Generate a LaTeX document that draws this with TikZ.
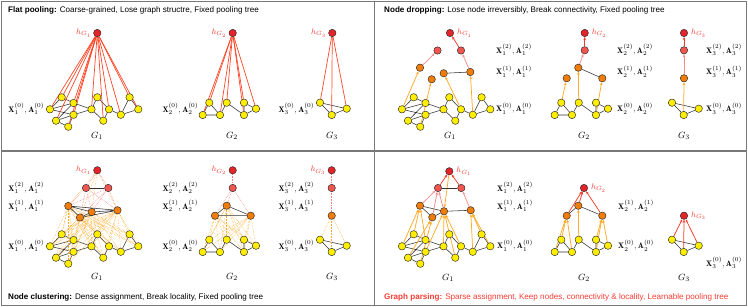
\documentclass[tikz,border=0pt]{standalone}
\usepackage{fontspec}
\setsansfont{Liberation Sans}
\usetikzlibrary{arrows.meta}
\pgfdeclarelayer{bg}
\pgfsetlayers{bg,main}
\definecolor{ynode}{RGB}{255,238,0}
\definecolor{onode}{RGB}{240,125,10}
\definecolor{rnode}{RGB}{240,85,80}
\definecolor{hnode}{RGB}{230,35,40}
\definecolor{redline}{RGB}{255,70,40}
\definecolor{oarrow}{RGB}{255,170,40}
\definecolor{parrow}{RGB}{245,140,140}
\definecolor{rarrow}{RGB}{240,60,45}
\definecolor{htext}{RGB}{245,60,50}
\definecolor{framec}{RGB}{120,120,120}
\tikzset{
 nd/.style={circle, draw=black!85, line width=0.45pt, minimum size=7.4pt, inner sep=0pt},
 yn/.style={nd, fill=ynode},
 onn/.style={nd, fill=onode},
 rn/.style={nd, fill=rnode},
 hn/.style={nd, fill=hnode},
 gedge/.style={draw=black!80, line width=0.55pt},
 flat/.style={draw=redline, line width=0.7pt},
 oarr/.style={draw=oarrow, line width=0.75pt, -{Stealth[length=3.2pt,width=2.6pt]}},
 parr/.style={draw=parrow, line width=0.75pt, -{Stealth[length=3.2pt,width=2.6pt]}},
 rarr/.style={draw=rarrow, line width=0.75pt, -{Stealth[length=3.2pt,width=2.6pt]}},
 odot/.style={draw=oarrow, line width=0.5pt, densely dotted},
 pdot/.style={draw=parrow!90!red, line width=0.55pt, densely dotted},
 xlab/.style={anchor=west, inner sep=0pt, font=\fontsize{8}{9}\selectfont},
 glab/.style={inner sep=0pt, font=\fontsize{9.5}{10}\selectfont},
 hlab/.style={inner sep=0pt, text=htext, font=\fontsize{8.5}{9}\selectfont},
 ttl/.style={anchor=west, inner sep=0pt, font=\sffamily\fontsize{8.1}{9}\selectfont},
 frm/.style={draw=framec, line width=1.2pt}
}
\newcommand{\GOne}[1]{%
 \node[yn] (#1a) at (50,109.3) {};
 \node[yn] (#1b) at (61.7,97.3) {};
 \node[yn] (#1c) at (73.5,103) {};
 \node[yn] (#1d) at (73.5,114.8) {};
 \node[yn] (#1e) at (56,120.7) {};
 \node[yn] (#1f) at (68.3,126.7) {};
 \node[yn] (#1g) at (91.5,109.3) {};
 \node[yn] (#1h) at (97.3,97.3) {};
 \node[yn] (#1i) at (109,109.3) {};
 \node[yn] (#1j) at (103.3,120.7) {};
 \node[yn] (#1k) at (120.8,114.8) {};
 \node[yn] (#1l) at (129.6,97.3) {};
 \node[yn] (#1m) at (138.3,109.3) {};
 \begin{pgfonlayer}{bg}
 \draw[gedge] (#1a)--(#1b) (#1a)--(#1c) (#1a)--(#1d) (#1b)--(#1c) (#1c)--(#1g)
   (#1d)--(#1g) (#1e)--(#1c) (#1e)--(#1d) (#1e)--(#1f) (#1f)--(#1d)
   (#1g)--(#1h) (#1g)--(#1j) (#1h)--(#1i) (#1i)--(#1j) (#1i)--(#1k)
   (#1k)--(#1l) (#1k)--(#1m) (#1l)--(#1m);
 \end{pgfonlayer}}
\newcommand{\GTwo}[1]{%
 \node[yn] (#1a) at (209.3,102.7) {};
 \node[yn] (#1b) at (202.7,115) {};
 \node[yn] (#1c) at (220,115) {};
 \node[yn] (#1d) at (226.7,102.7) {};
 \node[yn] (#1e) at (244,102.7) {};
 \node[yn] (#1f) at (244,115) {};
 \node[yn] (#1g) at (256,108.7) {};
 \begin{pgfonlayer}{bg}
 \draw[gedge] (#1a)--(#1b) (#1a)--(#1c) (#1b)--(#1c) (#1c)--(#1d) (#1d)--(#1f)
   (#1e)--(#1f) (#1e)--(#1g) (#1f)--(#1g);
 \end{pgfonlayer}}
\newcommand{\GThree}[1]{%
 \node[yn] (#1a) at (320,102.7) {};
 \node[yn] (#1b) at (331.7,115) {};
 \node[yn] (#1c) at (346.7,108.7) {};
 \begin{pgfonlayer}{bg}
 \draw[gedge] (#1a)--(#1b) (#1b)--(#1c) (#1a)--(#1c);
 \end{pgfonlayer}}
\newcommand{\XA}[2]{$\mathbf{X}_{#1}^{(#2)}, \mathbf{A}_{#1}^{(#2)}$}
\begin{document}
\begin{tikzpicture}[x=1pt,y=-1pt]
\useasboundingbox (0,0) rectangle (748,307);
% frame
\draw[frm] (1.2,1.2) rectangle (746.3,305.6);
\draw[frm] (374.5,1.2) -- (374.5,305.6);
\draw[frm] (1.2,151) -- (746.3,151);

% ================= Panel 1: flat pooling
\node[ttl] (t1) at (8,10) {\textbf{Flat pooling:} Coarse-grained, Lose graph structre, Fixed pooling tree};
\GOne{P1} \GTwo{P2} \GThree{P3}
\node[hn] (P1h) at (97.3,33) {};
\node[hn] (P2h) at (232.7,33) {};
\node[hn] (P3h) at (332.3,33) {};
\node[hlab, anchor=east] (P1hl) at ([xshift=-2pt]P1h.west) {$h_{G_1}$};
\node[hlab, anchor=east] (P2hl) at ([xshift=-2pt]P2h.west) {$h_{G_2}$};
\node[hlab, anchor=east] (P3hl) at ([xshift=-2pt]P3h.west) {$h_{G_3}$};
\begin{pgfonlayer}{bg}
\foreach \n in {a,...,m} \draw[flat] (P1h) -- (P1\n);
\foreach \n in {a,...,g} \draw[flat] (P2h) -- (P2\n);
\foreach \n in {a,...,c} \draw[flat] (P3h) -- (P3\n);
\end{pgfonlayer}
\node[xlab] (P1x0) at (8.3,109) {\XA{1}{0}};
\node[xlab] (P2x0) at (162.3,109) {\XA{2}{0}};
\node[xlab] (P3x0) at (278.3,109) {\XA{3}{0}};
\node[glab] (P1g) at (97,136) {$G_1$};
\node[glab] (P2g) at (232,136) {$G_2$};
\node[glab] (P3g) at (332,136) {$G_3$};

% ================= Panel 2: node dropping
\node[ttl] (t2) at (384,10) {\textbf{Node dropping:} Lose node irreversibly, Break connectivity, Fixed pooling tree};
\begin{scope}[shift={(352,0)}]
\GOne{Q1} \GTwo{Q2} \GThree{Q3}
\end{scope}
\node[hn] (Q1h) at (450,33) {};
\node[rn] (Q1r1) at (437.5,50.5) {};
\node[rn] (Q1r2) at (461,50.5) {};
\node[onn] (Q1o1) at (420,67.7) {};
\node[onn] (Q1o2) at (431.7,79.3) {};
\node[onn] (Q1o3) at (443.7,73.3) {};
\node[onn] (Q1o4) at (470.3,72) {};
\node[hn] (Q2h) at (584.7,33) {};
\node[rn] (Q2r) at (584.7,50.3) {};
\node[onn] (Q2o1) at (566.7,78.3) {};
\node[onn] (Q2o2) at (578.3,67.7) {};
\node[onn] (Q2o3) at (602.3,78.3) {};
\node[hn] (Q3h) at (684,33) {};
\node[rn] (Q3r) at (684,50.3) {};
\node[onn] (Q3o) at (684,78.3) {};
\begin{pgfonlayer}{bg}
\draw[oarr] (Q1a) -- (Q1o1);
\draw[oarr] (Q1f) -- (Q1o2);
\draw[oarr] (Q1i) -- (Q1o3);
\draw[oarr] (Q1k) -- (Q1o4);
\draw[parr] (Q1o1) -- (Q1r1);
\draw[parr] (Q1o4) -- (Q1r2);
\draw[rarr] (Q1r2) -- (Q1h);
\draw[gedge] (Q1o3) -- (Q1o4);
\draw[oarr] (Q2a) -- (Q2o1);
\draw[oarr] (Q2d) -- (Q2o2);
\draw[oarr] (Q2f) -- (Q2o3);
\draw[parr] (Q2o2) -- (Q2r);
\draw[rarr] (Q2r) -- (Q2h);
\draw[gedge] (Q2o2) -- (Q2o3);
\draw[oarr] (Q3b) -- (Q3o);
\draw[parr] (Q3o) -- (Q3r);
\draw[rarr] (Q3r) -- (Q3h);
\end{pgfonlayer}
\node[hlab, anchor=west] (Q1hl) at ([xshift=3pt]Q1h.east) {$h_{G_1}$};
\node[hlab, anchor=west] (Q2hl) at ([xshift=3pt]Q2h.east) {$h_{G_2}$};
\node[hlab, anchor=west] (Q3hl) at ([xshift=3pt]Q3h.east) {$h_{G_3}$};
\node[xlab] (Q1x2) at (496,50) {\XA{1}{2}};
\node[xlab] (Q1x1) at (496,71.5) {\XA{1}{1}};
\node[xlab] (Q1x0) at (496,108.5) {\XA{1}{0}};
\node[xlab] (Q2x2) at (617,50) {\XA{2}{2}};
\node[xlab] (Q2x1) at (617,71.5) {\XA{2}{1}};
\node[xlab] (Q2x0) at (617,108.5) {\XA{2}{0}};
\node[xlab] (Q3x2) at (706,50) {\XA{3}{2}};
\node[xlab] (Q3x1) at (706,71.5) {\XA{3}{1}};
\node[xlab] (Q3x0) at (706,108.5) {\XA{3}{0}};
\node[glab] (Q1g) at (450,136) {$G_1$};
\node[glab] (Q2g) at (584,136) {$G_2$};
\node[glab] (Q3g) at (684,136) {$G_3$};

% ================= Panel 3: node clustering
\node[ttl] (t3) at (8,297.5) {\textbf{Node clustering:} Dense assignment, Break locality, Fixed pooling tree};
\begin{scope}[shift={(0,137)}]
\GOne{R1} \GTwo{R2} \GThree{R3}
\end{scope}
\node[hn] (R1h) at (97.3,170.3) {};
\node[rn] (R1r1) at (86,188) {};
\node[rn] (R1r2) at (108.3,188) {};
\node[onn] (R1oA) at (68.3,206) {};
\node[onn] (R1oB) at (91.7,212) {};
\node[onn] (R1oC) at (117.5,210.3) {};
\node[onn] (R1oD) at (80,217.5) {};
\node[hn] (R2h) at (232.7,170.3) {};
\node[rn] (R2r) at (232.7,188) {};
\node[onn] (R2oA) at (226.7,205.7) {};
\node[onn] (R2oB) at (215,215.7) {};
\node[onn] (R2oC) at (250.7,215.7) {};
\node[hn] (R3h) at (331.7,170.3) {};
\node[rn] (R3r) at (331.7,188) {};
\node[onn] (R3o) at (331.7,215.7) {};
\begin{pgfonlayer}{bg}
\foreach \s in {a,...,m} \foreach \t in {A,B,C,D} \draw[odot] (R1\s) -- (R1o\t);
\foreach \s in {A,B,C,D} \foreach \t in {1,2} \draw[pdot] (R1o\s) -- (R1r\t);
\foreach \t in {1,2} \draw[pdot] (R1r\t) -- (R1h);
\draw[gedge] (R1r1) -- (R1r2);
\draw[gedge] (R1oA) -- (R1oB) (R1oA) -- (R1oC) (R1oB) -- (R1oC) (R1oA) -- (R1oD) (R1oD) -- (R1oB) (R1oD) -- (R1oC);
\foreach \s in {a,...,g} \foreach \t in {A,B,C} \draw[odot] (R2\s) -- (R2o\t);
\foreach \s in {A,B,C} \draw[pdot] (R2o\s) -- (R2r);
\draw[pdot] (R2r) -- (R2h);
\draw[gedge] (R2oA) -- (R2oB) (R2oB) -- (R2oC) (R2oA) -- (R2oC);
\foreach \s in {a,...,c} \draw[odot] (R3\s) -- (R3o);
\draw[pdot] (R3o) -- (R3r);
\draw[pdot] (R3r) -- (R3h);
\end{pgfonlayer}
\node[hlab, anchor=east] (R1hl) at ([xshift=-2pt]R1h.west) {$h_{G_1}$};
\node[hlab, anchor=east] (R2hl) at ([xshift=-2pt]R2h.west) {$h_{G_2}$};
\node[hlab, anchor=east] (R3hl) at ([xshift=-2pt]R3h.west) {$h_{G_3}$};
\node[xlab] (R1x2) at (8.3,188) {\XA{1}{2}};
\node[xlab] (R1x1) at (8.3,206) {\XA{1}{1}};
\node[xlab] (R1x0) at (8.3,246) {\XA{1}{0}};
\node[xlab] (R2x2) at (162.3,188) {\XA{2}{2}};
\node[xlab] (R2x1) at (162.3,206) {\XA{2}{1}};
\node[xlab] (R2x0) at (162.3,246) {\XA{2}{0}};
\node[xlab] (R3x2) at (278.3,188) {\XA{3}{2}};
\node[xlab] (R3x1) at (278.3,206) {\XA{3}{1}};
\node[xlab] (R3x0) at (278.3,246) {\XA{3}{0}};
\node[glab] (R1g) at (97,277) {$G_1$};
\node[glab] (R2g) at (232,277) {$G_2$};
\node[glab] (R3g) at (332,277) {$G_3$};

% ================= Panel 4: graph parsing
\node[ttl, text=htext] (t4) at (384,297.5) {\textbf{Graph parsing:} Sparse assignment, Keep nodes, connectivity \& locality, Learnable pooling tree};
\begin{scope}[shift={(352,137)}]
\GOne{S1} \GTwo{S2} \GThree{S3}
\end{scope}
\node[hn] (S1h) at (449.3,171.3) {};
\node[rn] (S1r1) at (438,188) {};
\node[rn] (S1r2) at (461.3,188) {};
\node[onn] (S1oA) at (420,205.7) {};
\node[onn] (S1oB) at (432.3,217.3) {};
\node[onn] (S1oC) at (444,211.3) {};
\node[onn] (S1oD) at (470.7,210.3) {};
\node[hn] (S2h) at (584,188) {};
\node[onn] (S2oA) at (566.7,215.7) {};
\node[onn] (S2oB) at (578.3,205.7) {};
\node[onn] (S2oC) at (602.3,215.7) {};
\node[hn] (S3h) at (684,215.7) {};
\begin{pgfonlayer}{bg}
\foreach \s in {a,b,c} \draw[oarr] (S1\s) -- (S1oA);
\foreach \s in {e,f} \draw[oarr] (S1\s) -- (S1oB);
\foreach \s in {d,g,h,i,j} \draw[oarr] (S1\s) -- (S1oC);
\foreach \s in {k,l,m} \draw[oarr] (S1\s) -- (S1oD);
\foreach \s in {A,B,C} \draw[parr] (S1o\s) -- (S1r1);
\draw[parr] (S1oD) -- (S1r2);
\draw[rarr] (S1r1) -- (S1h);
\draw[rarr] (S1r2) -- (S1h);
\draw[gedge] (S1r1) -- (S1r2);
\draw[gedge] (S1oA) -- (S1oC) (S1oC) -- (S1oD) (S1oA) -- (S1oB) (S1oB) -- (S1oC);
\foreach \s in {a,b,c} \draw[oarr] (S2\s) -- (S2oA);
\draw[oarr] (S2d) -- (S2oB);
\foreach \s in {e,f,g} \draw[oarr] (S2\s) -- (S2oC);
\foreach \s in {A,B,C} \draw[rarr] (S2o\s) -- (S2h);
\draw[gedge] (S2oA) -- (S2oB) (S2oB) -- (S2oC);
\foreach \s in {a,b,c} \draw[rarr] (S3\s) -- (S3h);
\end{pgfonlayer}
\node[hlab, anchor=west] (S1hl) at ([xshift=3pt]S1h.east) {$h_{G_1}$};
\node[hlab, anchor=west] (S2hl) at ([xshift=3pt]S2h.east) {$h_{G_2}$};
\node[hlab, anchor=west] (S3hl) at ([xshift=3pt]S3h.east) {$h_{G_3}$};
\node[xlab] (S1x2) at (497,188) {\XA{1}{2}};
\node[xlab] (S1x1) at (497,206) {\XA{1}{1}};
\node[xlab] (S1x0) at (497,245.7) {\XA{1}{0}};
\node[xlab] (S2x1) at (618,206) {\XA{2}{1}};
\node[xlab] (S2x0) at (618,245.7) {\XA{2}{0}};
\node[xlab] (S3x0) at (706,263) {\XA{3}{0}};
\node[glab] (S1g) at (448,278) {$G_1$};
\node[glab] (S2g) at (584,278) {$G_2$};
\node[glab] (S3g) at (684,278) {$G_3$};
\end{tikzpicture}
\end{document}
